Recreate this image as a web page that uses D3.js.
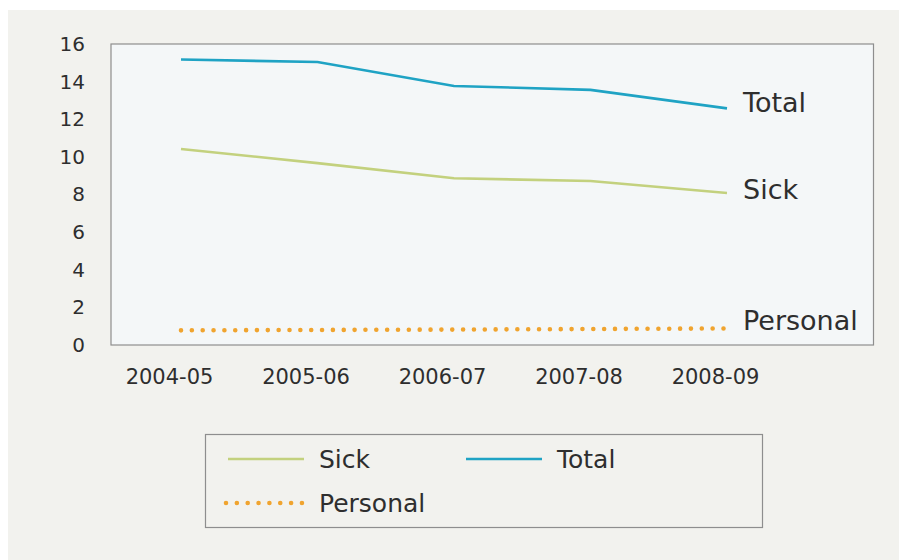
<!DOCTYPE html>
<html><head><meta charset="utf-8">
<script src="https://cdn.jsdelivr.net/npm/d3@7"></script>
<style>html,body{margin:0;padding:0;background:#fff;}svg{display:block;}</style>
</head><body>
<script>
const categories = ["2004-05","2005-06","2006-07","2007-08","2008-09"];
const sick = [10.42, 9.67, 8.86, 8.72, 8.08];
const total = [15.18, 15.04, 13.77, 13.56, 12.58];
const personal = [0.78, 0.80, 0.82, 0.85, 0.88];
const yTicks = [0,2,4,6,8,10,12,14,16];

const W = 899, H = 560;
const font = "'DejaVu Sans', sans-serif";
const svg = d3.select("body").append("svg").attr("width", W).attr("height", H);

svg.append("rect").attr("x", 8).attr("y", 10).attr("width", W - 8).attr("height", H - 10).attr("fill", "#f2f2ee");

const plot = {l: 111, t: 44, r: 873.5, b: 345};
svg.append("rect").attr("x", plot.l).attr("y", plot.t).attr("width", plot.r - plot.l).attr("height", plot.b - plot.t)
  .attr("fill", "#f4f7f8").attr("stroke", "#8e8e8e").attr("stroke-width", 1.2);

const x = d3.scalePoint().domain(categories).range([181, 727]);
const y = d3.scaleLinear().domain([0, 16]).range([plot.b, plot.t]);

// y axis labels
const yAxis = d3.axisLeft(y).tickValues(yTicks).tickSize(0).tickPadding(0).tickFormat(d3.format("d"));
const gy = svg.append("g").attr("transform", `translate(85,0)`).call(yAxis);
gy.select(".domain").remove();
gy.selectAll("text").attr("font-family", font).attr("font-size", 20).attr("fill", "#2e2e2e");

// x axis labels
const xAxis = d3.axisBottom(x).tickSize(0).tickPadding(0);
const gx = svg.append("g").attr("transform", `translate(-12,369)`).call(xAxis);
gx.select(".domain").remove();
gx.selectAll("text").attr("font-family", font).attr("font-size", 21).attr("fill", "#2e2e2e");

const line = d3.line().x((d, i) => x(categories[i])).y(d => y(d));

const series = [
  {name: "Sick", values: sick, color: "#c3d17e", dash: null},
  {name: "Total", values: total, color: "#1fa3c4", dash: null},
  {name: "Personal", values: personal, color: "#f0a42f", dash: "0,10.85"}
];

series.forEach(s => {
  const p = svg.append("path").attr("d", line(s.values)).attr("fill", "none")
    .attr("stroke", s.color);
  if (s.dash) {
    p.attr("stroke-width", 4.6).attr("stroke-dasharray", s.dash).attr("stroke-linecap", "round");
  } else {
    p.attr("stroke-width", 2.6);
  }
});

// end labels
const endLabels = [
  {text: "Total", yv: total[4], dy: 4},
  {text: "Sick", yv: sick[4], dy: 6},
  {text: "Personal", yv: personal[4], dy: 2}
];
endLabels.forEach(l => {
  svg.append("text").attr("x", 743).attr("y", y(l.yv) + l.dy).text(l.text)
    .attr("font-family", font).attr("font-size", 27).attr("fill", "#2e2e2e");
});

// legend
svg.append("rect").attr("x", 205.5).attr("y", 434.5).attr("width", 557).attr("height", 93)
  .attr("fill", "#f2f2ee").attr("stroke", "#8e8e8e").attr("stroke-width", 1.2);
const legendItems = [
  {s: series[0], lx: 228, ty: 459},
  {s: series[1], lx: 466, ty: 459},
  {s: series[2], lx: 226, ty: 503}
];
legendItems.forEach(it => {
  const p = svg.append("line").attr("x1", it.lx).attr("x2", it.lx + 76).attr("y1", it.ty).attr("y2", it.ty)
    .attr("stroke", it.s.color);
  if (it.s.dash) {
    p.attr("stroke-width", 4.6).attr("stroke-dasharray", "0,10.85").attr("stroke-linecap", "round")
     .attr("x1", it.lx).attr("x2", it.lx + 80);
  } else p.attr("stroke-width", 2.6);
  svg.append("text").attr("x", it.lx + 91 + (it.s.dash ? 2 : 0)).attr("y", it.ty + 9).text(it.s.name)
    .attr("font-family", font).attr("font-size", 25).attr("fill", "#2e2e2e");
});
</script>
</body></html>
